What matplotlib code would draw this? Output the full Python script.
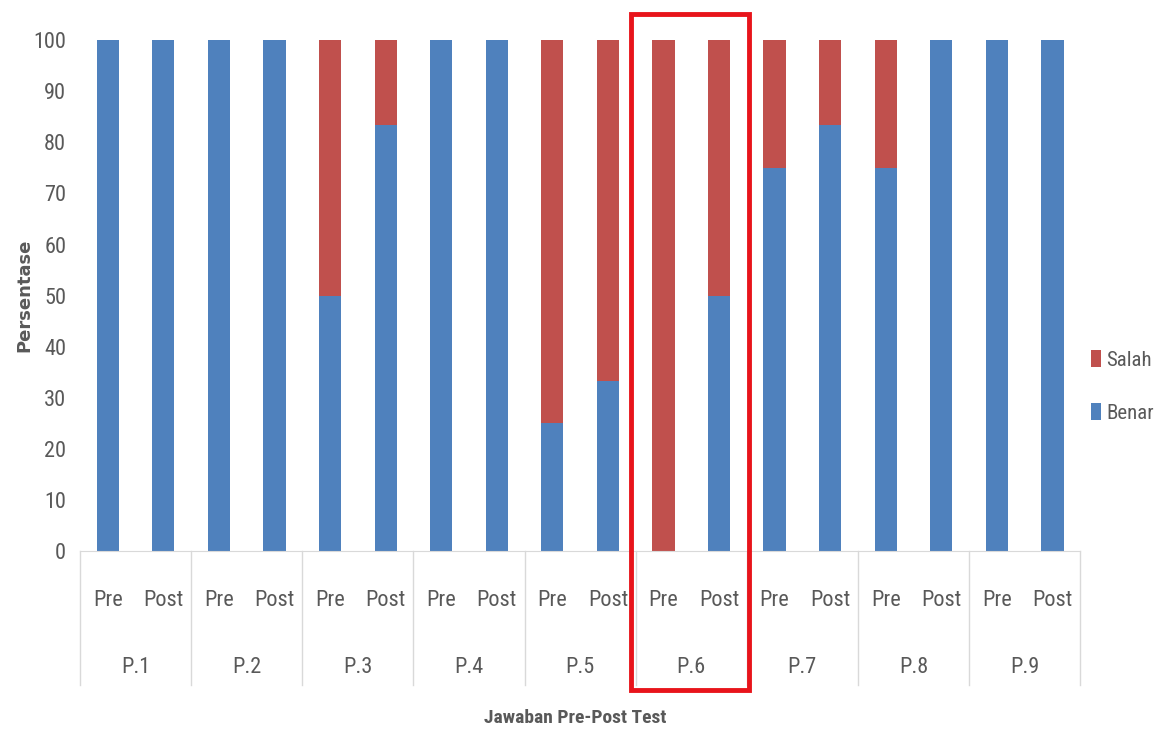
import numpy as np
import matplotlib
matplotlib.use("Agg")
import matplotlib.pyplot as plt
from matplotlib.patches import Rectangle
import matplotlib.transforms as mtransforms

plt.rcParams['font.family'] = ['Liberation Sans Narrow', 'Roboto Condensed',
                               'Liberation Sans', 'DejaVu Sans']

groups = ["P.1", "P.2", "P.3", "P.4", "P.5", "P.6", "P.7", "P.8", "P.9"]
tests = ["Pre", "Post"]
# percentage of correct answers (Benar), pre then post per question
benar_pre  = [100, 100, 50,   100, 25,   0,  75, 75, 100]
benar_post = [100, 100, 83.3, 100, 33.3, 50, 83.3, 100, 100]

BLUE, RED, GREY = "#4F81BD", "#C0504D", "#595959"

benar = np.ravel(np.column_stack([benar_pre, benar_post]))
salah = 100 - benar
x = np.arange(len(benar))

fig = plt.figure(figsize=(11.63, 7.29), dpi=100)
ax = fig.add_axes([0.0688, 0.244, 0.86, 0.701])

ax.bar(x, benar, width=0.4, color=BLUE, label="Benar", zorder=2)
ax.bar(x, salah, width=0.4, bottom=benar, color=RED, label="Salah", zorder=2)

ax.set_xlim(-0.5, len(x) - 0.5)
ax.set_ylim(0, 100)
ax.set_yticks(np.arange(0, 101, 10))
ax.tick_params(axis="y", length=0, labelsize=16, colors=GREY, pad=10)
ax.set_xticks([])
for s in ["top", "right", "left"]:
    ax.spines[s].set_visible(False)
ax.spines["bottom"].set_color("#D9D9D9")

# two-level category axis
trans = mtransforms.blended_transform_factory(ax.transData, ax.transAxes)
for i in range(len(groups) + 1):
    ax.plot([2 * i - 0.5] * 2, [0, -0.262], transform=trans, color="#D9D9D9",
            lw=1, clip_on=False)
for i, xi in enumerate(x):
    ax.text(xi, -0.096, tests[i % 2], transform=trans, ha="center", va="center",
            fontsize=16, color=GREY)
for g, name in enumerate(groups):
    ax.text(2 * g + 0.5, -0.227, name, transform=trans, ha="center", va="center",
            fontsize=16, color=GREY)

ax.text(0.495, -0.327, "Jawaban Pre-Post Test", transform=ax.transAxes, ha="center",
        va="center", fontsize=14, fontweight="bold", color=GREY)
fig.text(0.021, 0.595, "Persentase", rotation=90, ha="center", va="center",
         fontsize=13, fontweight="bold", color=GREY, family="DejaVu Sans")

# highlight box around P.6
ax.add_patch(Rectangle((9.41, -0.272), 2.13, 1.323, transform=trans, fill=False,
                       edgecolor="#E8141B", lw=3.5, clip_on=False, zorder=5))

h, l = ax.get_legend_handles_labels()
fig.legend(h[::-1], l[::-1], loc="center left", bbox_to_anchor=(0.938, 0.47),
           frameon=False, fontsize=15, labelcolor=GREY, handlelength=0.5,
           handleheight=0.9, handletextpad=0.25, labelspacing=1.6,
           borderaxespad=0, borderpad=0)

fig.savefig("out.png", dpi=100)
